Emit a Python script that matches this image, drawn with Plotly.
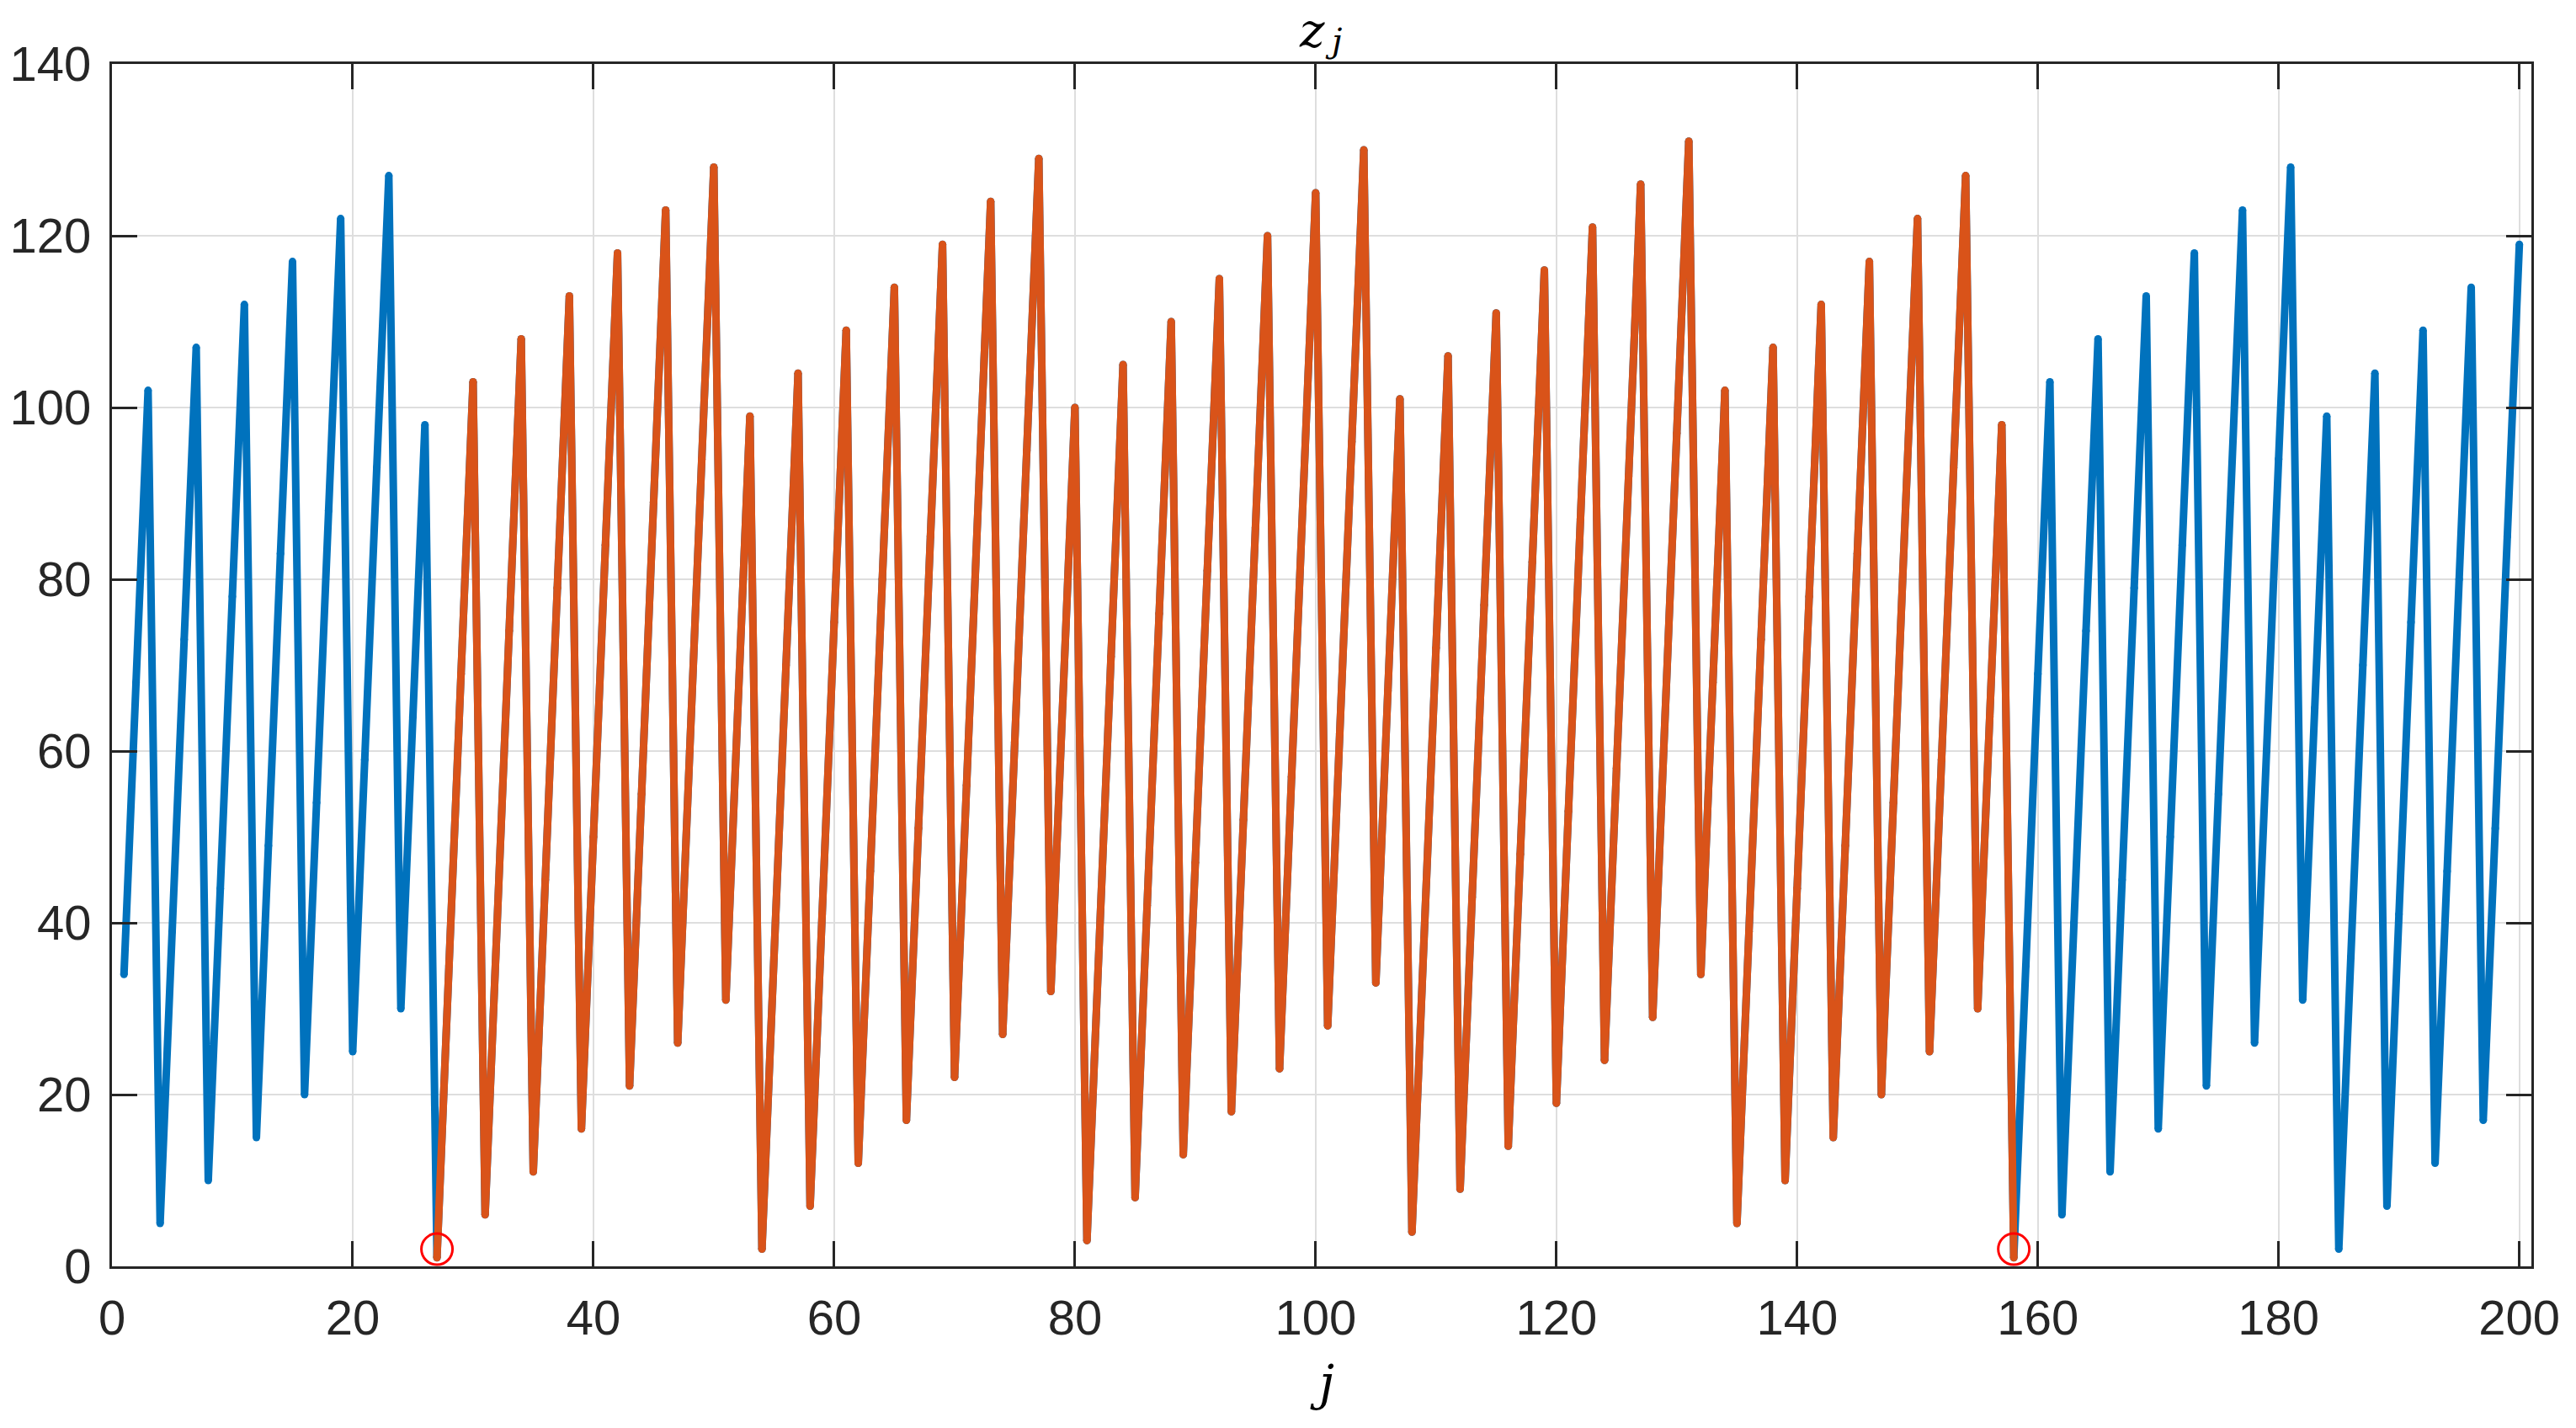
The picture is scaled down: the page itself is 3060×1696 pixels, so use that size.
import plotly.graph_objects as go

# ---- data ----
j_values = list(range(1, 201))
z_values = [
    34, 68, 102, 5, 39, 73, 107, 10, 44, 78,
    112, 15, 49, 83, 117, 20, 54, 88, 122, 25,
    59, 93, 127, 30, 64, 98, 1, 35, 69, 103,
    6, 40, 74, 108, 11, 45, 79, 113, 16, 50,
    84, 118, 21, 55, 89, 123, 26, 60, 94, 128,
    31, 65, 99, 2, 36, 70, 104, 7, 41, 75,
    109, 12, 46, 80, 114, 17, 51, 85, 119, 22,
    56, 90, 124, 27, 61, 95, 129, 32, 66, 100,
    3, 37, 71, 105, 8, 42, 76, 110, 13, 47,
    81, 115, 18, 52, 86, 120, 23, 57, 91, 125,
    28, 62, 96, 130, 33, 67, 101, 4, 38, 72,
    106, 9, 43, 77, 111, 14, 48, 82, 116, 19,
    53, 87, 121, 24, 58, 92, 126, 29, 63, 97,
    131,
    34, 68, 102, 5, 39, 73, 107, 10, 44, 78,
    112, 15, 49, 83, 117, 20, 54, 88, 122, 25,
    59, 93, 127, 30, 64, 98, 1, 35, 69, 103,
    6, 40, 74, 108, 11, 45, 79, 113, 16, 50,
    84, 118, 21, 55, 89, 123, 26, 60, 94, 128,
    31, 65, 99, 2, 36, 70, 104, 7, 41, 75,
    109, 12, 46, 80, 114, 17, 51, 85, 119,
]
cycle_start = 27
cycle_end = 158
marker_j = [27, 158]
marker_z = [2, 2]
x_ticks = [0, 20, 40, 60, 80, 100, 120, 140, 160, 180, 200]
y_ticks = [0, 20, 40, 60, 80, 100, 120, 140]

BLUE = "#0072BD"
ORANGE = "#D95319"
AXC = "#262626"
GRID = "#DEDEDE"
LW = 9

i0 = j_values.index(cycle_start)
i1 = j_values.index(cycle_end)

fig = go.Figure()
fig.add_trace(go.Scatter(x=j_values, y=z_values, mode="lines+markers",
                         line=dict(color=BLUE, width=LW),
                         marker=dict(color=BLUE, size=LW, line=dict(width=0)),
                         showlegend=False))
fig.add_trace(go.Scatter(x=j_values[i0:i1 + 1], y=z_values[i0:i1 + 1], mode="lines+markers",
                         line=dict(color=ORANGE, width=LW),
                         marker=dict(color=ORANGE, size=LW, line=dict(width=0)),
                         showlegend=False))
fig.add_trace(go.Scatter(x=marker_j, y=marker_z, mode="markers",
                         marker=dict(symbol="circle-open", size=37, color="#FF0000",
                                     line=dict(width=3, color="#FF0000")),
                         showlegend=False))

tickfont = dict(family="Liberation Sans, Arial, sans-serif", size=58, color=AXC)
mathfont = "DejaVu Serif, serif"

fig.update_layout(
    width=3060, height=1696,
    margin=dict(l=133, r=53, t=76, b=192),
    paper_bgcolor="white", plot_bgcolor="white",
    xaxis=dict(range=[0, 201], tickvals=x_ticks, ticks="inside", ticklen=30, tickwidth=3,
               tickcolor=AXC, showline=True, linecolor=AXC, linewidth=3, mirror="ticks",
               showgrid=True, gridcolor=GRID, gridwidth=2, zeroline=False,
               tickfont=tickfont, ticklabelstandoff=8),
    yaxis=dict(range=[0, 140], tickvals=y_ticks, ticks="inside", ticklen=30, tickwidth=3,
               tickcolor=AXC, showline=True, linecolor=AXC, linewidth=3, mirror="ticks",
               showgrid=True, gridcolor=GRID, gridwidth=2, zeroline=False,
               tickfont=tickfont, ticklabelstandoff=10),
    annotations=[
        # title z_j
        dict(text="<i>z</i>", xref="paper", yref="paper", x=0.5, y=1,
             xshift=-12, yshift=74, xanchor="center", yanchor="top", showarrow=False,
             font=dict(family=mathfont, size=56, color="black")),
        dict(text="<i>j</i>", xref="paper", yref="paper", x=0.5, y=1,
             xshift=14, yshift=53, xanchor="center", yanchor="top", showarrow=False,
             font=dict(family=mathfont, size=40, color="black")),
        # x label
        dict(text="<i>j</i>", xref="paper", yref="paper", x=0.5, y=0,
             yshift=-138, xanchor="center", yanchor="middle", showarrow=False,
             font=dict(family=mathfont, size=58, color="black")),
    ],
)

fig.write_html("out.html", post_script="document.body.style.margin='0';",
               config={"displayModeBar": False})
